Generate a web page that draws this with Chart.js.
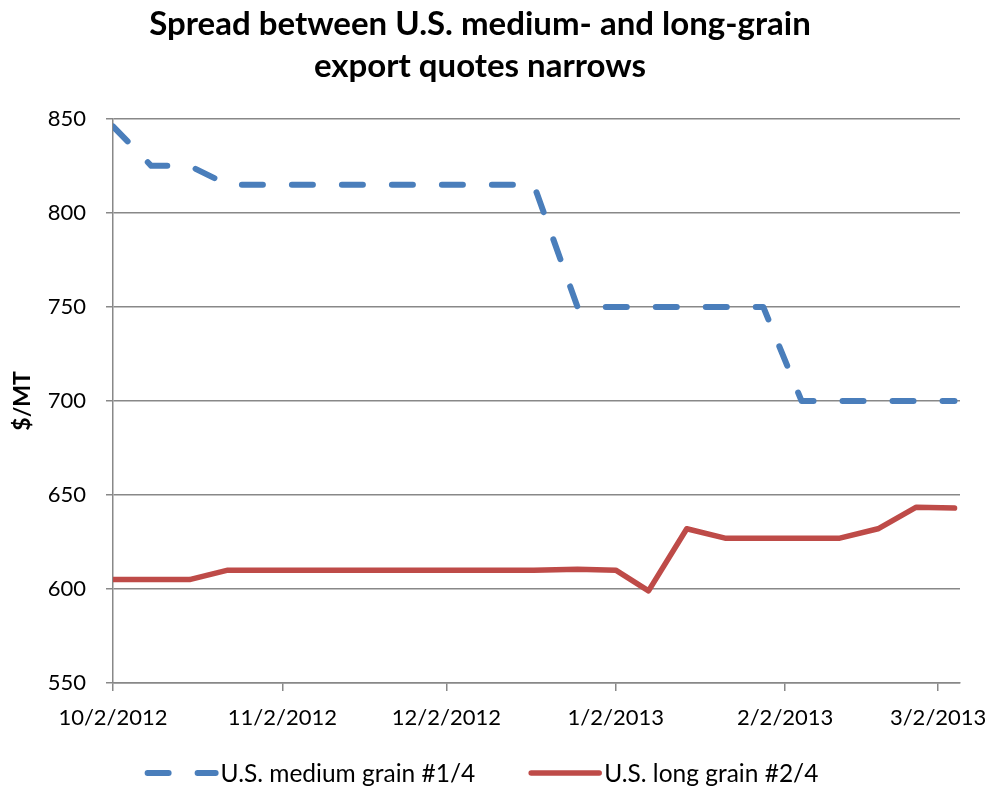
<!DOCTYPE html>
<html>
<head>
<meta charset="utf-8">
<title>Spread between U.S. medium- and long-grain export quotes narrows</title>
<script src="https://cdn.jsdelivr.net/npm/chart.js@4.4.1/dist/chart.umd.min.js"></script>
<style>
  html, body { margin: 0; padding: 0; background: #ffffff; }
  #wrap { width: 992px; height: 788px; position: relative; }
</style>
</head>
<body>
<div id="wrap"><canvas id="chart" width="992" height="788"></canvas></div>
<script>
// Days since 10/2/2012 for each weekly quote
const quoteDays = [0, 7, 14, 21, 28, 35, 42, 49, 56, 63, 70, 77, 85, 92, 98, 105, 112, 119, 126, 133, 140, 147, 154];

// $/MT
const mediumGrain = [846, 825, 825, 815, 815, 815, 815, 815, 815, 815, 815, 815, 750, 750, 750, 750, 750, 750, 700, 700, 700, 700, 700];
const longGrain = [605, 605, 605, 610, 610, 610, 610, 610, 610, 610, 610, 610, 610.5, 610, 599, 632, 627, 627, 627, 627, 632, 643.5, 643];

// x-axis ticks (days since 10/2/2012) and their labels
const tickDays = [0, 31, 61, 92, 123, 151];
const tickLabels = ['10/2/2012', '11/2/2012', '12/2/2012', '1/2/2013', '2/2/2013', '3/2/2013'];

const yTicks = [550, 600, 650, 700, 750, 800, 850];

const FONT = 'Lato, "Open Sans", sans-serif';
const gridGray = '#888888';

function toPoints(values) {
    return quoteDays.map((d, i) => ({ x: d, y: values[i] }));
}

// Excel-like legend: line sample right against the label text
const bottomLegend = {
    id: 'bottomLegend',
    afterDraw(chart) {
        const c = chart.ctx;
        const sampleW = 68, textGap = 5, itemGap = 56, centerX = 483, y = 773;
        c.save();
        c.font = '24.5px ' + FONT;
        c.textBaseline = 'middle';
        c.textAlign = 'left';
        const items = chart.data.datasets.map(ds => ({ ds, w: c.measureText(ds.label).width }));
        let total = 0;
        items.forEach((it, i) => { total += sampleW + textGap + it.w + (i ? itemGap : 0); });
        let x = centerX - total / 2;
        items.forEach((it, i) => {
            if (i) x += itemGap;
            c.beginPath();
            c.strokeStyle = it.ds.borderColor;
            c.lineWidth = it.ds.borderWidth;
            c.lineCap = 'round';
            c.setLineDash(it.ds.borderDash || []);
            c.moveTo(x, y);
            c.lineTo(x + sampleW, y);
            c.stroke();
            c.setLineDash([]);
            x += sampleW + textGap;
            c.fillStyle = '#000000';
            c.fillText(it.ds.label, x, y + 1);
            x += it.w;
        });
        c.restore();
    }
};

const ctx = document.getElementById('chart').getContext('2d');
new Chart(ctx, {
    type: 'line',
    data: {
        datasets: [{
            label: 'U.S. medium grain #1/4',
            data: toPoints(mediumGrain),
            borderColor: '#4a7ebb',
            backgroundColor: '#4a7ebb',
            borderWidth: 6,
            borderDash: [21, 29],
            borderCapStyle: 'round',
            borderJoinStyle: 'round',
            pointRadius: 0,
            tension: 0
        }, {
            label: 'U.S. long grain #2/4',
            data: toPoints(longGrain),
            borderColor: '#be4b48',
            backgroundColor: '#be4b48',
            borderWidth: 5.5,
            borderCapStyle: 'round',
            borderJoinStyle: 'round',
            pointRadius: 0,
            tension: 0
        }]
    },
    options: {
        responsive: false,
        animation: false,
        layout: { padding: { left: 0, right: 32, top: 0, bottom: 49 } },
        plugins: {
            title: {
                display: true,
                text: ['Spread between U.S. medium- and long-grain', 'export quotes narrows'],
                color: '#000000',
                font: { family: FONT, size: 33, weight: 'bold', lineHeight: 1.27 },
                padding: { top: 3, bottom: 32 }
            },
            legend: { display: false },
            tooltip: { enabled: false }
        },
        scales: {
            x: {
                type: 'linear',
                min: 0,
                max: 155,
                afterBuildTicks: (axis) => {
                    axis.ticks = tickDays.map(v => ({ value: v }));
                },
                afterFit: (scale) => {
                    scale.height = 56;
                    scale.paddingLeft = 0;
                    scale.paddingRight = 0;
                },
                border: { display: true, color: gridGray, width: 1.5 },
                grid: { drawOnChartArea: false, drawTicks: true, tickLength: 8, color: gridGray, lineWidth: 1.5 },
                ticks: {
                    autoSkip: false,
                    maxRotation: 0,
                    padding: 14,
                    color: '#000000',
                    font: { family: FONT, size: 22 },
                    callback: (value, index) => tickLabels[index]
                }
            },
            y: {
                min: 550,
                max: 850,
                afterBuildTicks: (axis) => {
                    axis.ticks = yTicks.map(v => ({ value: v }));
                },
                afterFit: (scale) => { scale.width = 113; },
                border: { display: true, color: gridGray, width: 1.5 },
                grid: { color: gridGray, lineWidth: 1.5, tickLength: 7 },
                ticks: {
                    padding: 20,
                    color: '#000000',
                    font: { family: FONT, size: 22 }
                },
                title: {
                    display: true,
                    text: '$/MT',
                    color: '#000000',
                    font: { family: FONT, size: 23, weight: 'bold' },
                    padding: { top: 9, bottom: 0 }
                }
            }
        }
    },
    plugins: [bottomLegend]
});
</script>
</body>
</html>
